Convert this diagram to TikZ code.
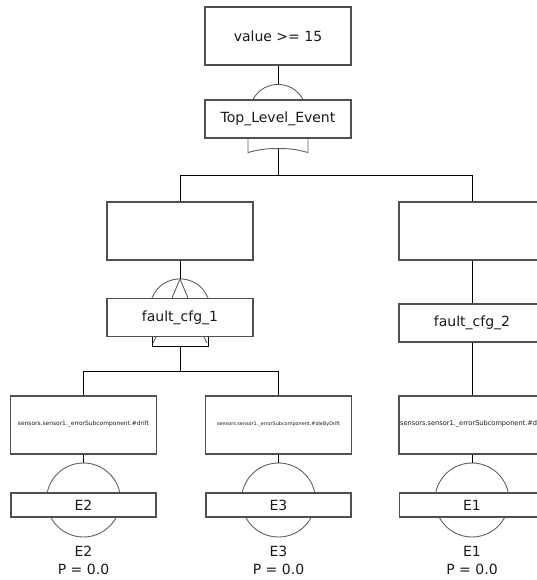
\documentclass[tikz,border=0pt]{standalone}
\usepackage{fontspec}
\setmainfont{DejaVu Sans}
\usetikzlibrary{calc,backgrounds}
\definecolor{edgegray}{HTML}{505050}
\definecolor{gategray}{HTML}{606060}
\definecolor{inkgray}{HTML}{1a1a1a}
\begin{document}
\begin{tikzpicture}[x=1pt,y=-1pt,
  evbox/.style={draw=edgegray, line width=1.1pt, fill=white, inner sep=0pt,
    text=inkgray, font=\fontsize{14}{16}\selectfont},
  tall/.style={minimum width=146pt, minimum height=58pt},
  flat/.style={minimum width=146pt, minimum height=38pt},
  thin/.style={minimum width=145pt, minimum height=24pt},
  wire/.style={draw=black, line width=0.9pt},
  gate/.style={draw=gategray, line width=0.9pt},
  lbl/.style={inner sep=0pt, text=inkgray, font=\fontsize{14}{18}\selectfont, align=center},
  tiny/.style={inner sep=0pt, text=inkgray},
]
\useasboundingbox (0,0) rectangle (537,580);
\clip (0,0) rectangle (537,580);

% event boxes
\node[evbox,tall] (val) at (278,36) {value >= 15};
\node[evbox,flat] (tle) at (278,119) {Top\_Level\_Event};
\node[evbox,tall] (g1) at (180,231) {};
\node[evbox,flat] (f1) at (180,317.5) {fault\_cfg\_1};
\node[evbox,tall] (g2) at (472,231) {};
\node[evbox,flat] (f2) at (472,323) {fault\_cfg\_2};
\node[evbox,tall] (s2) at (83.5,425) {};
\node[evbox,tall] (s3) at (278.5,425) {};
\node[evbox,tall] (s1) at (472,425) {};
\node[tiny] (t2) at ($(s2.center)+(0,-1)$) {\resizebox{131pt}{!}{sensors.sensor1.\_errorSubcomponent.\#drift}};
\node[tiny] (t3) at ($(s3.center)+(0,-1)$) {\resizebox{123pt}{!}{sensors.sensor1.\_errorSubcomponent.\#dieByDrift}};
\node[tiny,anchor=west] (t1) at ($(s1.west)+(1.5,-1)$) {\resizebox{137pt}{!}{sensors.sensor1.\_errorSubcomponent.\#d}};

% basic events
\node[evbox,thin] (e2) at (83.5,505) {E2};
\node[evbox,thin] (e3) at (278.5,505) {E3};
\node[evbox,thin] (e1) at (472,505) {E1};
\node[lbl] (l2) at (83.5,560) {E2\\P = 0.0};
\node[lbl] (l3) at (278.5,560) {E3\\P = 0.0};
\node[lbl] (l1) at (472,560) {E1\\P = 0.0};

% basic event circles behind the boxes
\begin{scope}[on background layer]
  \foreach \e in {e1,e2,e3}
    \draw[gate] ($(\e.center)+(0,-5)$) circle[radius=37pt];
\end{scope}

% AND gate above the top event
\begin{scope}[shift={(tle.north)}]
  \draw[gate] (-25,0) .. controls (-14.3,-20) and (14.3,-20) .. (25,0);
  \coordinate (andtop) at (0,-15);
\end{scope}

% OR gate outline below the top event
\begin{scope}[shift={(tle.south)}]
  \draw[gate] (-30,0) -- (-30,14) .. controls (-16,10) and (-8,10) .. (0,10)
    .. controls (8,10) and (16,10) .. (30,14) -- (30,0);
  \coordinate (orbot) at (0,10);
\end{scope}

% gate above fault_cfg_1
\begin{scope}[shift={(f1.north)}]
  \draw[gate] (-28,0) .. controls (-17.9,-25.4) and (17.9,-25.4) .. (28,0);
  \draw[gate] (-8,0) -- (0,-19) -- (8,0);
  \coordinate (pandtop) at (0,-19);
\end{scope}

% gate outline below fault_cfg_1
\begin{scope}[shift={(f1.south)}]
  \draw[black, line width=0.9pt] (-28,0) -- (-28,9) -- (28,9) -- (28,0);
  \draw[gate] (-24,0) -- (-27,6);
  \draw[gate] (24,0) -- (27,6);
  \coordinate (pandbot) at (0,9);
\end{scope}

% connectors
\draw[wire] (val.south) -- (andtop);
\draw[wire] (orbot) -- ++(0,27) coordinate (hub1);
\draw[wire] (g1.north) |- (hub1) -| (g2.north);
\draw[wire] (g1.south) -- (pandtop);
\draw[wire] (pandbot) -- ++(0,25) coordinate (hub2);
\draw[wire] (s2.north) |- (hub2) -| (s3.north);
\draw[wire] (g2.south) -- (f2.north);
\draw[wire] (f2.south) -- (s1.north);
\draw[wire] (s2.south) -- ($(e2.center)+(0,-42)$);
\draw[wire] (s3.south) -- ($(e3.center)+(0,-42)$);
\draw[wire] (s1.south) -- ($(e1.center)+(0,-42)$);
\end{tikzpicture}
\end{document}
